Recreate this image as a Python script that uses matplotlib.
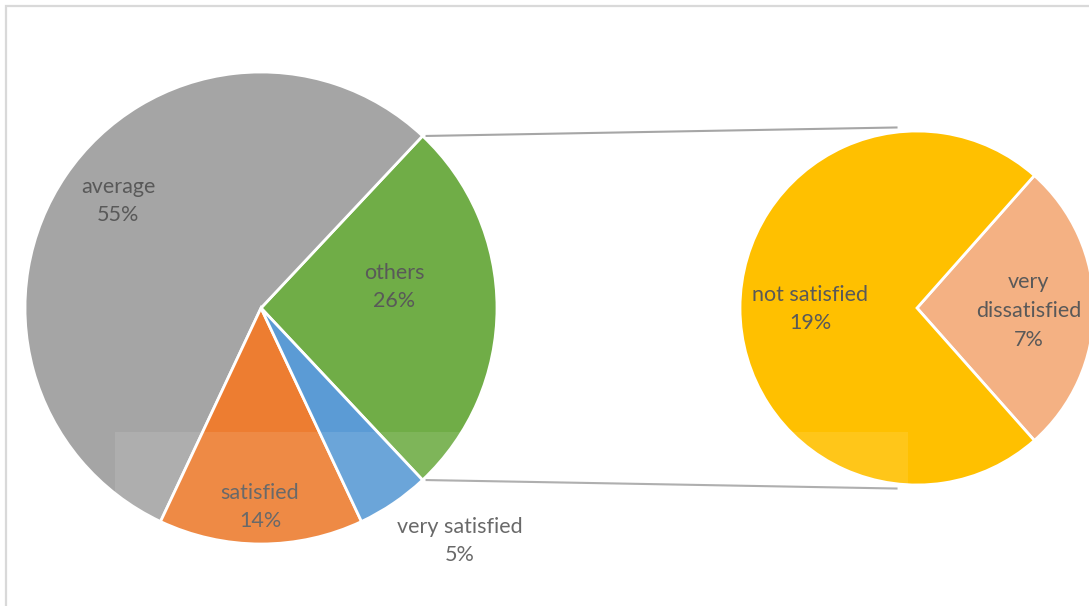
import numpy as np
import matplotlib
matplotlib.use("Agg")
import matplotlib.pyplot as plt
from matplotlib.patches import Rectangle

# Survey satisfaction shares (%)
main_labels = ["others", "average", "satisfied", "very satisfied"]
main_values = [26, 55, 14, 5]
main_colors = ["#70AD47", "#A5A5A5", "#ED7D31", "#5B9BD5"]

sub_labels = ["very\ndissatisfied", "not satisfied"]
sub_values = [7, 19]
sub_colors = ["#F4B183", "#FFC000"]

W, H = 1089, 606
fig = plt.figure(figsize=(W / 100, H / 100), dpi=100)
ax = fig.add_axes([0, 0, 1, 1])
ax.set_xlim(0, W)
ax.set_ylim(0, H)
ax.axis("off")

plt.rcParams["font.family"] = ["Lato", "DejaVu Sans"]
txt_color = "#595959"
fs = 15.5
lsp = 1.54

# chart frame
ax.add_patch(Rectangle((6, -10), W + 20, H - 6 + 10, fill=False,
                       edgecolor="#D9D9D9", linewidth=1.6, zorder=0))

# primary pie: the "others" wedge is centred on the right-hand side
c1, r1 = (261, 298), 236
start1 = -main_values[0] / sum(main_values) * 360 / 2
w1, _ = ax.pie(main_values, colors=main_colors, startangle=start1,
               center=c1, radius=r1, counterclock=True,
               wedgeprops=dict(edgecolor="white", linewidth=2.0))

# secondary pie breaking down "others"
c2, r2 = (917, 298), 177
start2 = -sub_values[0] / sum(sub_values) * 360 / 2
w2, _ = ax.pie(sub_values, colors=sub_colors, startangle=start2,
               center=c2, radius=r2, counterclock=True,
               wedgeprops=dict(edgecolor="white", linewidth=2.0))
ax.set_xlim(0, W)
ax.set_ylim(0, H)
ax.set_aspect("auto")

# connector lines from the "others" wedge edges to the secondary pie
th_top = np.deg2rad(w1[0].theta2)
th_bot = np.deg2rad(w1[0].theta1)
p_top = (c1[0] + r1 * np.cos(th_top) + 3, c1[1] + r1 * np.sin(th_top))
p_bot = (c1[0] + r1 * np.cos(th_bot) + 3, c1[1] + r1 * np.sin(th_bot))
q_top = (c2[0] - 0.11 * r2, c2[1] + r2 * 1.02)
q_bot = (c2[0] - 0.11 * r2, c2[1] - r2 * 1.02)
for p, q in [(p_top, q_top), (p_bot, q_bot)]:
    ax.plot([p[0], q[0]], [p[1], q[1]], color="#A6A6A6", linewidth=1.5,
            solid_capstyle="butt", zorder=1)


def pct(v, total):
    return f"{round(v / total * 100):.0f}%"


tot_all = sum(main_values)
# label anchor offsets (pixels relative to the pie centre)
main_offsets = {
    "others": (133, 21),
    "average": (-143, 107),
    "satisfied": (-1, -199),
    "very satisfied": (199, -233),
}
for lab, val in zip(main_labels, main_values):
    dx, dy = main_offsets[lab]
    ax.text(c1[0] + dx, c1[1] + dy, f"{lab}\n{pct(val, tot_all)}",
            ha="center", va="center", color=txt_color, fontsize=fs,
            linespacing=lsp, zorder=5)

sub_offsets = {
    "not satisfied": (-107, -1),
    "very\ndissatisfied": (112, -3),
}
for lab, val in zip(sub_labels, sub_values):
    dx, dy = sub_offsets[lab]
    ax.text(c2[0] + dx, c2[1] + dy, f"{lab}\n{val}%",
            ha="center", va="center", color=txt_color, fontsize=fs,
            linespacing=lsp, zorder=5)

# pale band across the lower part of the page
ax.add_patch(Rectangle((115, 0), 793, H - 432, facecolor="white",
                       alpha=0.1, edgecolor="none", zorder=6))

fig.savefig("out.png", dpi=100)
